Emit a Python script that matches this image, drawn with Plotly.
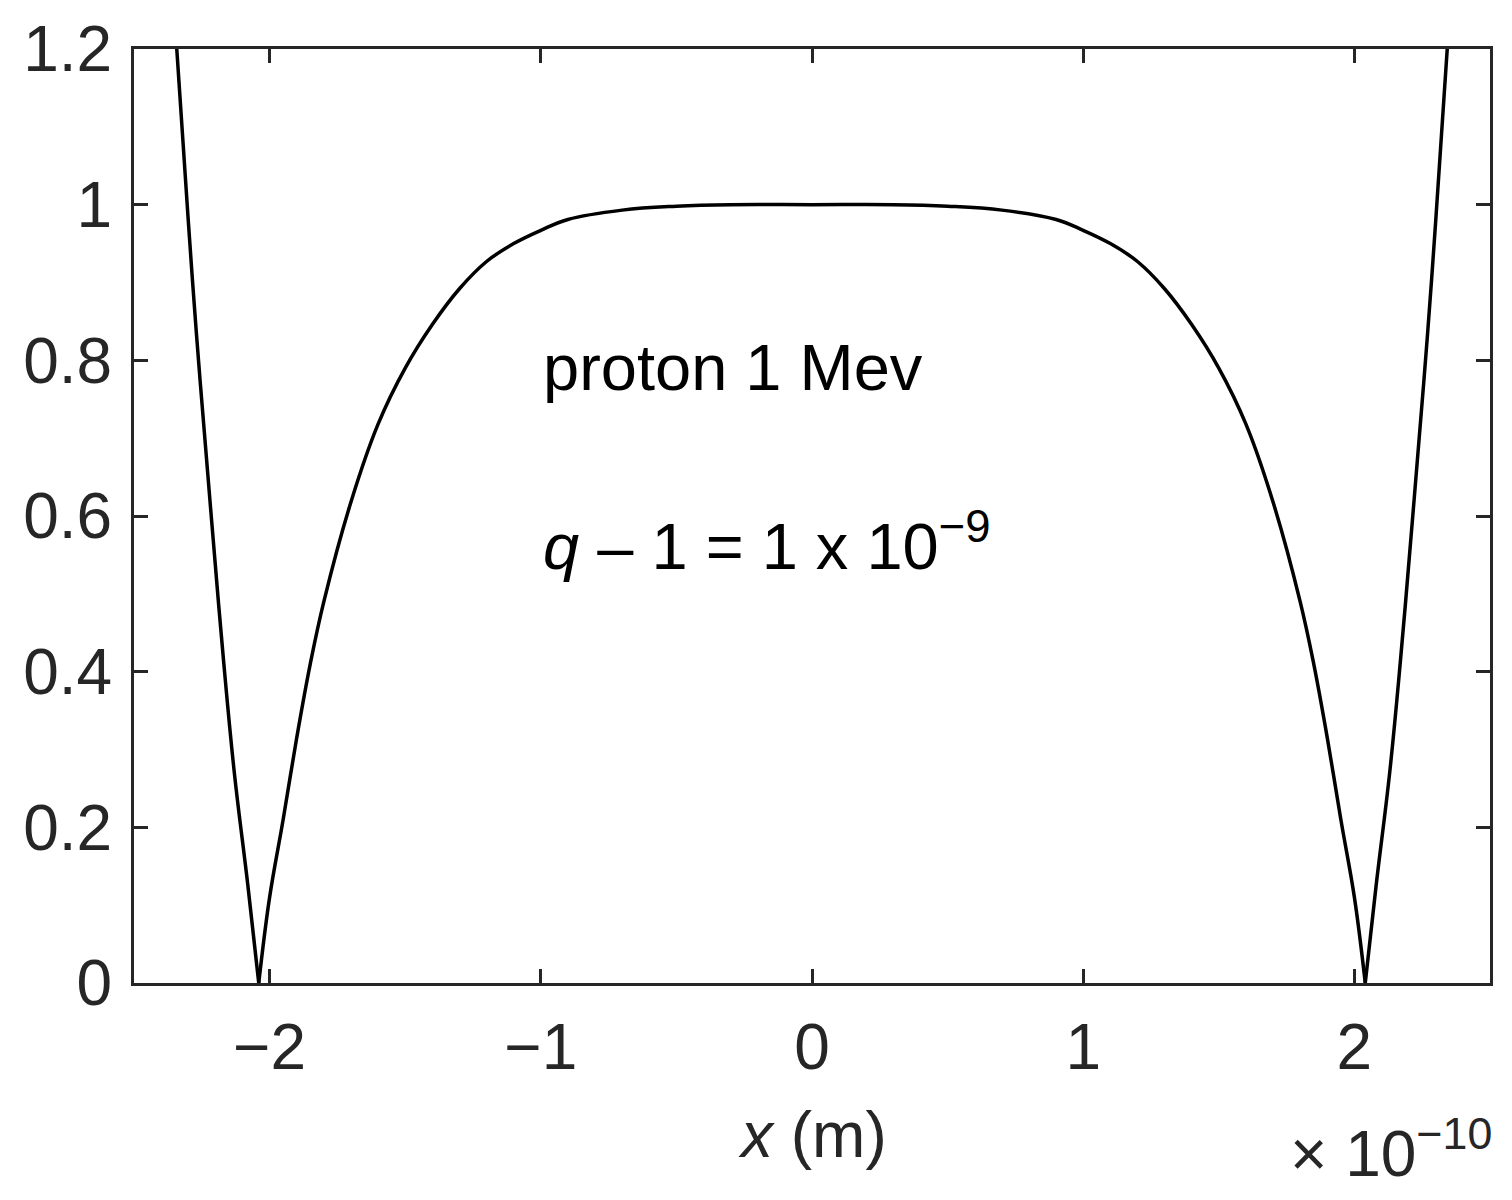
import plotly.graph_objects as go

# x in units of 1e-10 m
x_vals = [-2.35, -2.30, -2.27, -2.22, -2.17, -2.13, -2.08, -2.04,
          -2.00, -1.95, -1.90, -1.85, -1.80, -1.70, -1.60, -1.50, -1.40, -1.30,
          -1.20, -1.10, -1.00, -0.90, -0.70, -0.50, -0.30, 0.00,
          0.30, 0.50, 0.70, 0.90, 1.00, 1.10, 1.20, 1.30, 1.40, 1.50,
          1.60, 1.70, 1.80, 1.85, 1.90, 1.95, 2.00, 2.04,
          2.08, 2.13, 2.17, 2.22, 2.27, 2.30, 2.35]
y_vals = [1.24, 0.98, 0.835, 0.62, 0.415, 0.27, 0.125, 0.0,
          0.11, 0.21, 0.315, 0.41, 0.49, 0.618, 0.718, 0.790, 0.846, 0.892,
          0.927, 0.950, 0.967, 0.981, 0.993, 0.998, 1.000, 1.000,
          1.000, 0.998, 0.993, 0.981, 0.967, 0.950, 0.927, 0.892, 0.846, 0.790,
          0.718, 0.618, 0.49, 0.41, 0.315, 0.21, 0.11, 0.0,
          0.125, 0.27, 0.415, 0.62, 0.835, 0.98, 1.24]

x_tickvals = [-2, -1, 0, 1, 2]
x_ticktext = ["\u22122", "\u22121", "0", "1", "2"]
y_tickvals = [0, 0.2, 0.4, 0.6, 0.8, 1.0, 1.2]
y_ticktext = ["0", "0.2", "0.4", "0.6", "0.8", "1", "1.2"]

FONT = "Liberation Sans, Arial, sans-serif"
AXC = "#262626"

# split at the cusps so the spline keeps the sharp minima
zero_idx = [i for i, v in enumerate(y_vals) if v == 0.0]
bounds = [0] + zero_idx + [len(x_vals) - 1]

fig = go.Figure()
for a, b in zip(bounds[:-1], bounds[1:]):
    fig.add_trace(go.Scatter(
        x=x_vals[a:b + 1], y=y_vals[a:b + 1], mode="lines",
        line=dict(color="black", width=3.5, shape="spline", smoothing=1.1),
        showlegend=False, hoverinfo="skip"))

axis_common = dict(
    showline=True, linecolor=AXC, linewidth=3, mirror="ticks",
    ticks="inside", ticklen=14, tickwidth=3, tickcolor=AXC,
    showgrid=False, zeroline=False, automargin=False,
    tickfont=dict(family=FONT, size=64, color=AXC),
)

fig.update_layout(
    width=1512, height=1200,
    margin=dict(l=126, r=30, t=41, b=225, autoexpand=False),
    paper_bgcolor="white", plot_bgcolor="white",
    xaxis=dict(range=[-2.5, 2.5], tickmode="array", tickvals=x_tickvals,
               ticktext=x_ticktext, ticklabelstandoff=6, **axis_common),
    yaxis=dict(range=[0, 1.2], tickmode="array", tickvals=y_tickvals,
               ticktext=y_ticktext, ticklabelstandoff=6, **axis_common),
)

fig.add_annotation(x=-1.0, y=0.791, xref="x", yref="y", xanchor="left", yanchor="middle",
                   text="proton 1 Mev", showarrow=False,
                   font=dict(family=FONT, size=65, color="black"))
fig.add_annotation(x=-1.0, y=0.566, xref="x", yref="y", xanchor="left", yanchor="middle",
                   text="<i>q</i> \u2013 1 = 1 x 10<sup>\u22129</sup>", showarrow=False,
                   font=dict(family=FONT, size=65, color="black"))
fig.add_annotation(x=0.5, y=-0.163, xref="paper", yref="paper", xanchor="center", yanchor="middle",
                   text="<i>x</i> (m)", showarrow=False,
                   font=dict(family=FONT, size=64, color=AXC))
fig.add_annotation(x=1.003, y=-0.178, xref="paper", yref="paper", xanchor="right", yanchor="middle",
                   text="\u00d7 10<sup>\u221210</sup>", showarrow=False,
                   font=dict(family=FONT, size=64, color=AXC))

fig.write_html("out.html")
